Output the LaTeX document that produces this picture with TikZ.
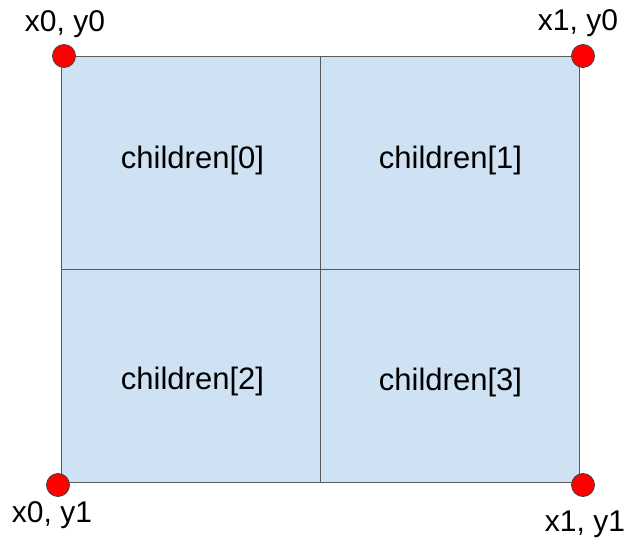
\documentclass[tikz,border=0pt]{standalone}
\usepackage{fontspec}
\setmainfont{Liberation Sans}
\usetikzlibrary{positioning}
\definecolor{cellblue}{HTML}{CFE2F3}
\definecolor{dotred}{HTML}{FF0000}

\begin{document}
\begin{tikzpicture}[x=1pt,y=-1pt,line width=1pt,
  cell/.style={draw=black!65,fill=cellblue,minimum width=259pt,minimum height=213pt,inner sep=0pt},
  celltext/.style={inner sep=0pt,font=\fontsize{31}{36}\selectfont},
  corner/.style={circle,draw=black!75,line width=.8pt,fill=dotred,minimum size=23pt,inner sep=0pt},
  cornerlabel/.style={anchor=base,inner sep=0pt,font=\fontsize{30}{35}\selectfont}]
\path[use as bounding box] (0,0) rectangle (625,540);
\node[cell] (c0) at (190.5,163.5) {};
\node[cell] (c1) at (449.5,163.5) {};
\node[cell] (c2) at (190.5,376.5) {};
\node[cell] (c3) at (449.5,376.5) {};
\node[celltext] (t0) at ([xshift=2pt,yshift=3pt]c0.center) {children[0]};
\node[celltext] (t1) at ([xshift=1pt,yshift=3pt]c1.center) {children[1]};
\node[celltext] (t2) at ([xshift=2pt,yshift=-5pt]c2.center) {children[2]};
\node[celltext] (t3) at ([xshift=1pt,yshift=-6pt]c3.center) {children[3]};
\node[corner] (tl) at (64,56) {};
\node[corner] (tr) at (583,56) {};
\node[corner] (bl) at (58,485) {};
\node[corner] (br) at (583,485) {};
\node[cornerlabel] (ltl) at (65,32) {x0, y0};
\node[cornerlabel] (ltr) at (578,31) {x1, y0};
\node[cornerlabel] (lbl) at (52,523) {x0, y1};
\node[cornerlabel] (lbr) at (585,532) {x1, y1};
\end{tikzpicture}
\end{document}
